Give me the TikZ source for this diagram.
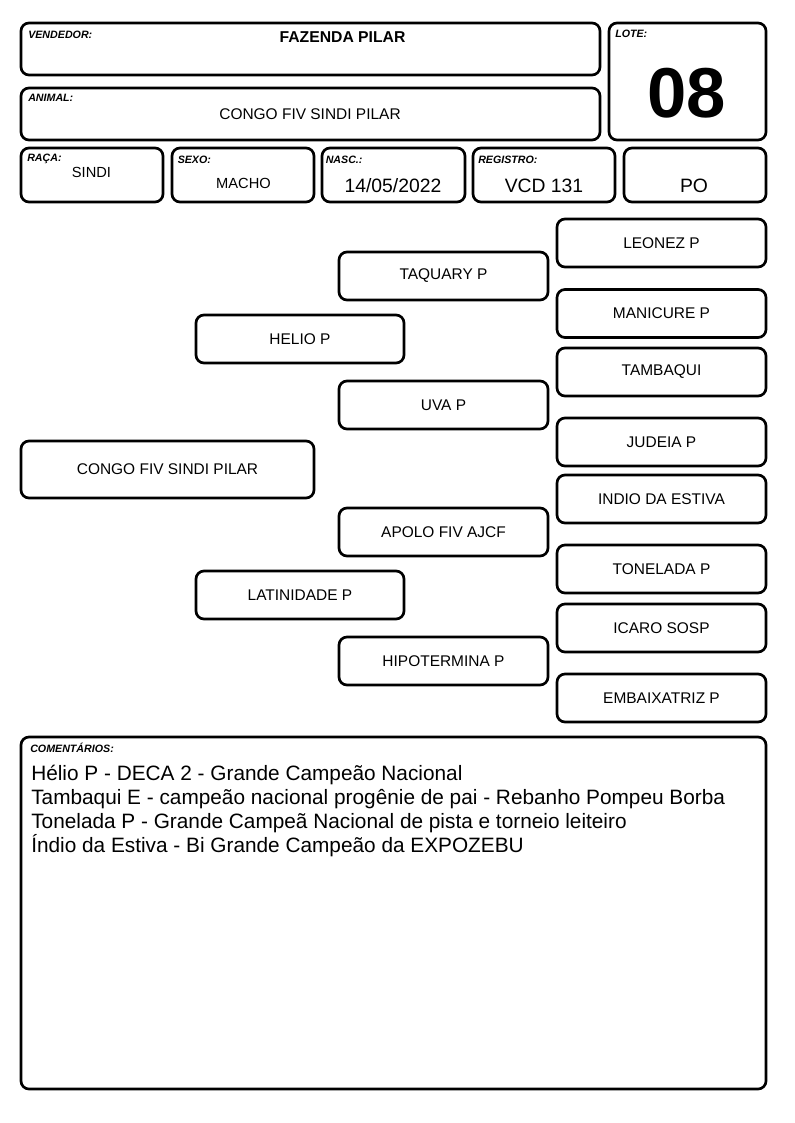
\documentclass[tikz,border=0pt]{standalone}
\usepackage{fontspec}
\setmainfont{Liberation Sans}
\usepackage{tikz}

\tikzset{
  caixa/.style={draw, line width=2pt, rounded corners=6pt, inner sep=0pt},
  rotulo/.style={inner sep=0pt, font=\fontsize{8}{9}\selectfont\bfseries\itshape},
  campo/.style={inner sep=0pt, font=\fontsize{11}{13}\selectfont},
  grande/.style={inner sep=0pt, font=\fontsize{14.5}{17}\selectfont},
  pai/.style={caixa, font=\fontsize{11.6}{14}\selectfont},
  obs/.style={inner sep=0pt, anchor=base west, font=\fontsize{15.6}{18}\selectfont}
}

\begin{document}
\begin{tikzpicture}[x=0.75pt,y=-0.75pt]
  \useasboundingbox (0,0) rectangle (794,1123) ;

  % cabecalho
  \node[caixa, minimum width=434.25pt, minimum height=39pt] (vendedor) at (310.5,49) {} ;
  \node[caixa, minimum width=434.25pt, minimum height=39pt] (animal) at (310.5,114) {} ;
  \node[caixa, minimum width=117.75pt, minimum height=87.75pt] (lote) at (687.5,81.5) {} ;
  \node[rotulo, anchor=base west] (tvendedor) at (28,39) {VENDEDOR:} ;
  \node[inner sep=0pt, anchor=base, font=\fontsize{11.8}{14}\selectfont\bfseries] (fazenda) at (342.5,43) {FAZENDA PILAR} ;
  \node[rotulo, anchor=base west] (tanimal) at (28,102) {ANIMAL:} ;
  \node[inner sep=0pt, anchor=base, font=\fontsize{11.6}{14}\selectfont] (nome) at (310,120) {CONGO FIV SINDI PILAR} ;
  \node[rotulo, anchor=base west] (tlote) at (615,38) {LOTE:} ;
  \node[inner sep=0pt, anchor=base, font=\fontsize{53}{60}\selectfont\bfseries] (numero) at (686.5,118) {08} ;

  \node[caixa, minimum width=106.5pt, minimum height=40.5pt] (raca) at (92,175) {} ;
  \node[caixa, minimum width=106.5pt, minimum height=40.5pt] (sexo) at (243,175) {} ;
  \node[caixa, minimum width=107.25pt, minimum height=40.5pt] (nasc) at (393.5,175) {} ;
  \node[caixa, minimum width=106.5pt, minimum height=40.5pt] (registro) at (544,175) {} ;
  \node[caixa, minimum width=106.5pt, minimum height=40.5pt] (categoria) at (695,175) {} ;
  \node[rotulo, anchor=base west] (traca) at (27,162) {RAÇA:} ;
  \node[rotulo, anchor=base west] (tsexo) at (177.5,164) {SEXO:} ;
  \node[rotulo, anchor=base west] (tnasc) at (325.5,164) {NASC.:} ;
  \node[rotulo, anchor=base west] (tregistro) at (478,164) {REGISTRO:} ;
  \node[campo, anchor=base] (vraca) at (91.5,178) {SINDI} ;
  \node[campo, anchor=base] (vsexo) at (243.5,189) {MACHO} ;
  \node[grande, anchor=base] (vnasc) at (393,193) {14/05/2022} ;
  \node[grande, anchor=base] (vregistro) at (544,193) {VCD 131} ;
  \node[grande, anchor=base] (vcategoria) at (694,193) {PO} ;

  % genealogia
  \node[pai, minimum width=219.75pt, minimum height=42.75pt] (congo) at (167.5,469.5) {CONGO FIV SINDI PILAR} ;

  \node[pai, minimum width=156pt, minimum height=36pt] (helio) at (300,339) {HELIO P} ;
  \node[pai, minimum width=156pt, minimum height=36pt] (latinidade) at (300,595) {LATINIDADE P} ;

  \node[pai, minimum width=156.75pt, minimum height=36pt] (taquary) at (443.5,276) {TAQUARY P} ;
  \node[pai, minimum width=156.75pt, minimum height=36pt] (uva) at (443.5,405) {UVA P} ;
  \node[pai, minimum width=156.75pt, minimum height=36pt] (apolo) at (443.5,532) {APOLO FIV AJCF} ;
  \node[pai, minimum width=156.75pt, minimum height=36pt] (hipotermina) at (443.5,661) {HIPOTERMINA P} ;

  \node[pai, minimum width=156.75pt, minimum height=36pt] (leonez) at (661.5,243) {LEONEZ P} ;
  \node[pai, minimum width=156.75pt, minimum height=36pt] (manicure) at (661.5,313.5) {MANICURE P} ;
  \node[pai, minimum width=156.75pt, minimum height=36pt] (tambaqui) at (661.5,372) {TAMBAQUI} ;
  \node[pai, minimum width=156.75pt, minimum height=36pt] (judeia) at (661.5,442) {JUDEIA P} ;
  \node[pai, minimum width=156.75pt, minimum height=36pt] (indio) at (661.5,499) {INDIO DA ESTIVA} ;
  \node[pai, minimum width=156.75pt, minimum height=36pt] (tonelada) at (661.5,569) {TONELADA P} ;
  \node[pai, minimum width=156.75pt, minimum height=36pt] (icaro) at (661.5,628) {ICARO SOSP} ;
  \node[pai, minimum width=156.75pt, minimum height=36pt] (embaixatriz) at (661.5,698) {EMBAIXATRIZ P} ;

  % comentarios
  \node[caixa, minimum width=558.75pt, minimum height=264pt] (comentarios) at (393.5,913) {} ;
  \node[rotulo, anchor=base west] (tcomentarios) at (30,752.5) {COMENTÁRIOS:} ;
  \node[obs] (obs1) at (31,780) {Hélio P - DECA 2 - Grande Campeão Nacional} ;
  \node[obs] (obs2) at (31,804) {Tambaqui E - campeão nacional progênie de pai - Rebanho Pompeu Borba} ;
  \node[obs] (obs3) at (31,828) {Tonelada P - Grande Campeã Nacional de pista e torneio leiteiro} ;
  \node[obs] (obs4) at (31,852) {Índio da Estiva - Bi Grande Campeão da EXPOZEBU} ;

\end{tikzpicture}
\end{document}
